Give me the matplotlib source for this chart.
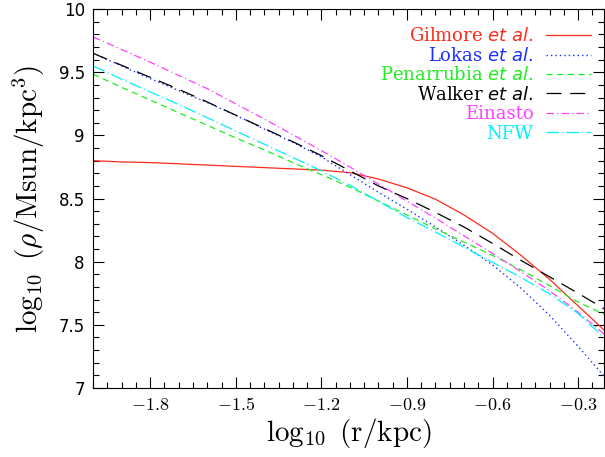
import numpy as np
import matplotlib
matplotlib.use("Agg")
import matplotlib.pyplot as plt
from matplotlib.ticker import MultipleLocator, FixedLocator

# log10(r/kpc) grid
log_r = [-2.0, -1.9, -1.8, -1.7, -1.6, -1.5, -1.4, -1.3, -1.2, -1.1,
         -1.0, -0.9, -0.8, -0.7, -0.6, -0.5, -0.4, -0.3, -0.2]

# log10(rho / Msun kpc^-3) for each profile
gilmore = [8.80, 8.79, 8.785, 8.775, 8.765, 8.755, 8.745, 8.735, 8.725, 8.705,
           8.655, 8.585, 8.495, 8.37, 8.225, 8.05, 7.86, 7.65, 7.44]
lokas = [9.65, 9.55, 9.45, 9.355, 9.26, 9.16, 9.05, 8.945, 8.83, 8.69,
         8.55, 8.415, 8.275, 8.13, 7.975, 7.79, 7.575, 7.33, 7.07]
penarrubia = [9.485, 9.38, 9.28, 9.18, 9.08, 8.98, 8.885, 8.785, 8.69, 8.59,
              8.48, 8.37, 8.26, 8.155, 8.05, 7.935, 7.81, 7.68, 7.575]
walker = [9.65, 9.555, 9.46, 9.365, 9.265, 9.16, 9.055, 8.95, 8.84, 8.72,
          8.60, 8.50, 8.39, 8.275, 8.145, 8.01, 7.88, 7.75, 7.615]
einasto = [9.78, 9.68, 9.58, 9.475, 9.37, 9.25, 9.13, 9.005, 8.88, 8.75,
           8.615, 8.48, 8.345, 8.205, 8.065, 7.92, 7.77, 7.60, 7.41]
nfw = [9.55, 9.445, 9.345, 9.245, 9.14, 9.035, 8.93, 8.825, 8.72, 8.605,
       8.48, 8.35, 8.235, 8.115, 7.995, 7.875, 7.745, 7.59, 7.38]

x_ticks = [-1.8, -1.5, -1.2, -0.9, -0.6, -0.3]
y_ticks = [7, 7.5, 8, 8.5, 9, 9.5, 10]
y_labels = ["7", "7.5", "8", "8.5", "9", "9.5", "10"]

plt.rcParams['mathtext.fontset'] = 'dejavusans'

fig = plt.figure(figsize=(6.05, 4.57), dpi=100)
ax = fig.add_axes([0.154, 0.151, 0.844, 0.829])

ax.plot(log_r, gilmore, color="#ff2a1a", lw=0.9, ls="-",
        label=r"Gilmore $\it{et\ al.}$")
ax.plot(log_r, lokas, color="#1a30ff", lw=1.0, ls=(0, (1, 2.2)),
        label=r"Lokas $\it{et\ al.}$")
ax.plot(log_r, penarrubia, color="#1eee1e", lw=0.9, ls=(0, (5, 3.5)),
        label=r"Penarrubia $\it{et\ al.}$")
ax.plot(log_r, walker, color="black", lw=0.9, ls=(0, (12, 7)),
        label=r"Walker $\it{et\ al.}$")
ax.plot(log_r, einasto, color="#ff40ff", lw=0.9, ls=(0, (6, 2.5, 1, 2.5)),
        label="Einasto")
ax.plot(log_r, nfw, color="#00f0ff", lw=0.9, ls=(0, (10, 2.5, 1, 2.5)),
        label="NFW")

ax.set_xlim(-2.0, -0.21)
ax.set_ylim(7, 10)

ax.xaxis.set_major_locator(FixedLocator(x_ticks))
ax.xaxis.set_minor_locator(MultipleLocator(0.05))
ax.set_xticklabels(["$%.1f$" % v for v in x_ticks])
for t in ax.get_xticklabels():
    t.set_math_fontfamily('cm')
    t.set_fontsize(13)

ax.yaxis.set_major_locator(FixedLocator(y_ticks))
ax.yaxis.set_minor_locator(MultipleLocator(0.1))
ax.set_yticklabels(y_labels, fontsize=12, family="DejaVu Sans")

ax.tick_params(which="both", direction="in", top=True, right=True, width=0.8)
ax.tick_params(which="major", length=8, pad=6)
ax.tick_params(which="minor", length=4.5)

ax.set_xlabel(r"$\log_{10}\ (\mathrm{r/kpc})$", fontsize=21,
              math_fontfamily='cm', labelpad=1)
ax.set_ylabel(r"$\log_{10}\ (\rho/\mathrm{Msun/kpc}^3)$", fontsize=21,
              math_fontfamily='cm', labelpad=8)

leg = ax.legend(loc="upper right", bbox_to_anchor=(1.0, 0.985),
                markerfirst=False, frameon=False,
                handlelength=2.5, handletextpad=0.7,
                labelspacing=0.08, borderaxespad=0.3,
                prop={"family": "DejaVu Serif", "size": 13})
for t, line in zip(leg.get_texts(), ax.get_lines()):
    t.set_color(line.get_color())

for s in ax.spines.values():
    s.set_linewidth(0.8)

fig.savefig("out.png", dpi=100)
